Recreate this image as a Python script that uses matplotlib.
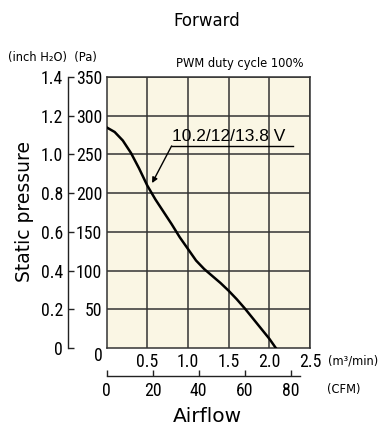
import matplotlib
matplotlib.use("Agg")
import matplotlib.pyplot as plt

# Data
airflow_m3 = [0.0, 0.1, 0.2, 0.3, 0.4, 0.5, 0.6, 0.7, 0.8, 0.9, 1.0, 1.1, 1.2,
              1.3, 1.4, 1.5, 1.6, 1.7, 1.8, 1.9, 2.0, 2.08]
pressure_pa = [285, 279, 268, 252, 232, 210, 192, 176, 160, 143, 128, 113, 102,
               93, 84, 74, 63, 51, 38, 25, 12, 0]
x_ticks = [0.5, 1.0, 1.5, 2.0, 2.5]
x_ticklabels = ["0.5", "1.0", "1.5", "2.0", "2.5"]
pa_ticks = [50, 100, 150, 200, 250, 300, 350]
inch_ticks = [0, 0.2, 0.4, 0.6, 0.8, 1.0, 1.2, 1.4]
inch_ticklabels = ["0", "0.2", "0.4", "0.6", "0.8", "1.0", "1.2", "1.4"]
cfm_ticks = [0, 20, 40, 60, 80]
series_label = "10.2/12/13.8 V"

num_font = ["Roboto Condensed", "Archivo Narrow", "PT Sans Narrow", "Liberation Sans", "DejaVu Sans"]
txt_font = ["DejaVu Sans"]
NS = 12.8

W, H = 380, 425
fig = plt.figure(figsize=(W / 100, H / 100), dpi=100)
L, R, T, B = 106.5, 310, 77, 348
ax = fig.add_axes([L / W, 1 - B / H, (R - L) / W, (B - T) / H])
ax.set_facecolor("#FAF6E4")
gc = "#333333"

ax.set_xlim(0, 2.5)
ax.set_ylim(0, 350)
ax.set_xticks(x_ticks)
ax.set_xticklabels(x_ticklabels)
ax.set_yticks(pa_ticks)
ax.tick_params(length=0, labelsize=NS)
for lab in ax.get_xticklabels() + ax.get_yticklabels():
    lab.set_fontfamily(num_font)
ax.tick_params(axis='y', pad=3)
ax.tick_params(axis='x', pad=3.5)
ax.grid(True, color=gc, lw=1.1)
for s in ax.spines.values():
    s.set_color(gc)
    s.set_linewidth(1.1)

ax.plot(airflow_m3, pressure_pa, color="black", lw=1.8, zorder=3)

# shared zero label at the corner
ax.annotate("0", xy=(0, 0), xytext=(-5.5, -5.5), textcoords="offset points",
            ha="center", va="center", fontsize=NS, fontfamily=num_font)

# inch H2O axis
ainch = ax.secondary_yaxis((68 - L) / (R - L), functions=(lambda p: p / 250.0, lambda i: i * 250.0))
ainch.set_yticks(inch_ticks)
ainch.set_yticklabels(inch_ticklabels)
ainch.tick_params(direction="in", length=4, width=1, labelsize=NS, pad=3.5, color="#222222")
for lab in ainch.get_yticklabels():
    lab.set_fontfamily(num_font)
ainch.spines["left"].set_color("#222222")
ainch.spines["left"].set_linewidth(1)

# CFM axis
acfm = ax.secondary_xaxis(-(376 - B) / (B - T), functions=(lambda m: m * 35.3147, lambda c: c / 35.3147))
acfm.set_xticks(cfm_ticks)
acfm.tick_params(direction="in", length=4, width=1, labelsize=NS, pad=4.5, color="#222222")
for lab in acfm.get_xticklabels():
    lab.set_fontfamily(num_font)
acfm.spines["bottom"].set_color("#222222")
acfm.spines["bottom"].set_linewidth(1)
acfm.spines["bottom"].set_bounds(0, 84)

# annotation
ax.annotate("", xy=(0.56, 213), xytext=(0.80, 261),
            arrowprops=dict(arrowstyle="-|>", lw=1, color="black", mutation_scale=8,
                            shrinkA=0, shrinkB=0), zorder=4)
ax.plot([0.80, 2.29], [261, 261], color="black", lw=1, zorder=4)
ax.text(0.80, 264, series_label, fontsize=12.5, fontfamily=["Liberation Sans", "DejaVu Sans"],
        ha="left", va="bottom", zorder=5)

# texts
fig.text(207 / W, 1 - 21 / H, "Forward", fontsize=12, fontfamily=txt_font, ha="center", va="center")
fig.text(240 / W, 1 - 64 / H, "PWM duty cycle 100%", fontsize=8.3, fontfamily=txt_font, ha="center", va="center")
fig.text(8 / W, 1 - 58 / H, "(inch H₂O)  (Pa)", fontsize=8.3, fontfamily=txt_font, ha="left", va="center")
fig.text(25 / W, 1 - 212 / H, "Static pressure", fontsize=13.5, fontfamily=txt_font,
         ha="center", va="center", rotation=90)
fig.text(207 / W, 1 - 417 / H, "Airflow", fontsize=14.5, fontfamily=txt_font, ha="center", va="center")
fig.text(328 / W, 1 - 361 / H, "(m³/min)", fontsize=8.3, fontfamily=txt_font, ha="left", va="center")
fig.text(327 / W, 1 - 390 / H, "(CFM)", fontsize=8.3, fontfamily=txt_font, ha="left", va="center")

fig.savefig("out.png", dpi=100)
